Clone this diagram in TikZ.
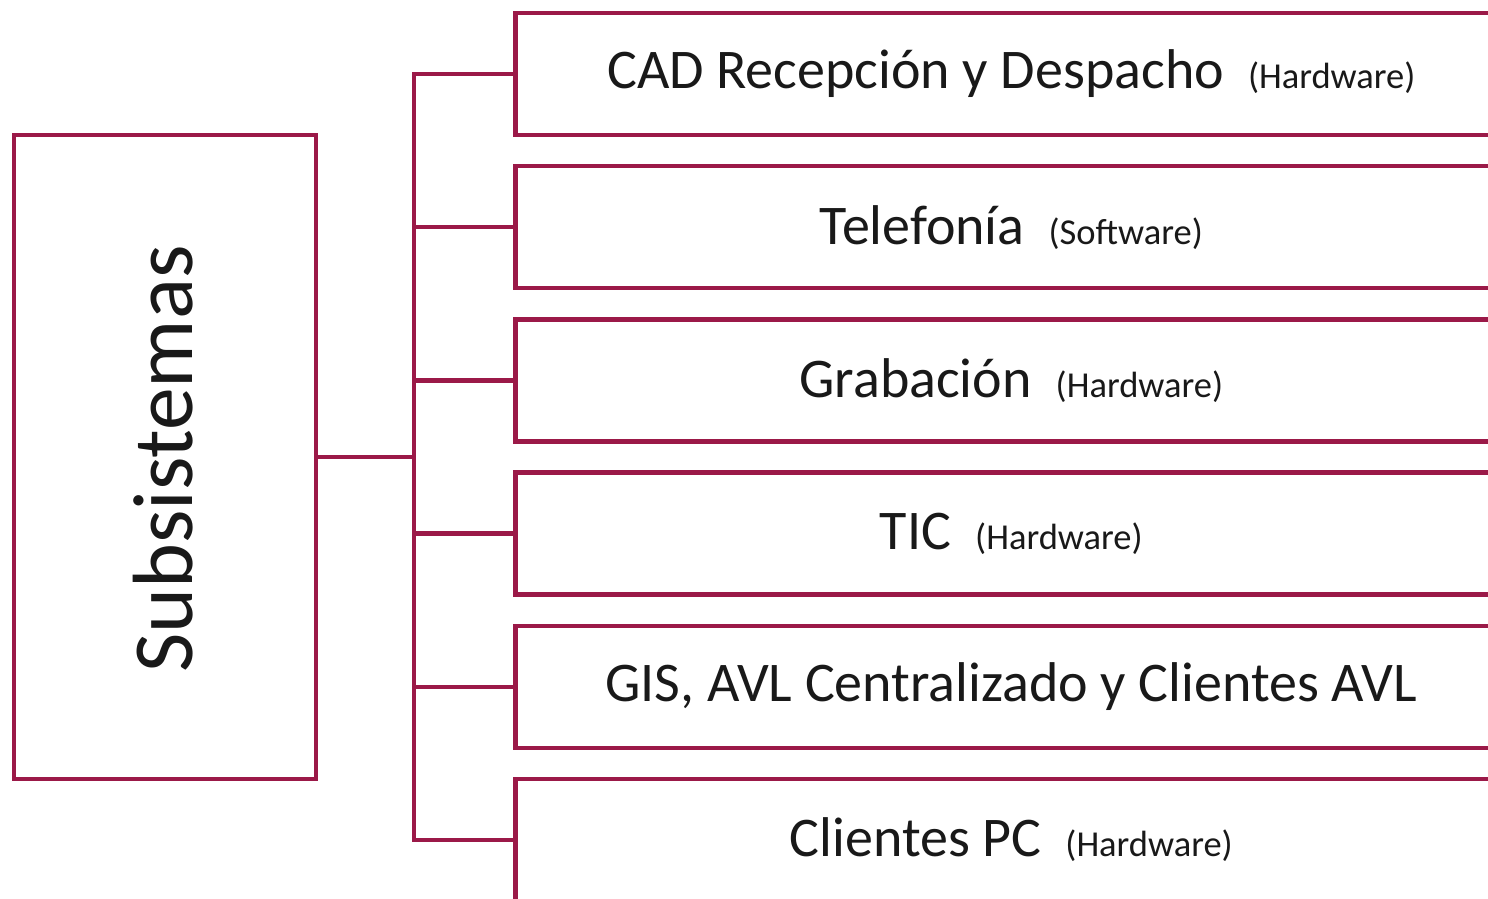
\documentclass[tikz,border=0pt]{standalone}
\usepackage{fontspec}
\setmainfont{Carlito}
\definecolor{crim}{RGB}{155,25,72}
\definecolor{ink}{RGB}{25,25,25}
\begin{document}
\begin{tikzpicture}[x=1pt,y=-1pt,
  box/.style={draw=crim,line width=4.5pt,inner sep=0pt,minimum width=992pt,minimum height=122pt,anchor=west,fill=white,text=ink},
  conn/.style={draw=crim,line width=4.5pt,line cap=rect},
  big/.style={font=\fontsize{56}{60}\selectfont},
]
\clip (0,0) rectangle (1488,898);
\fill[white] (0,0) rectangle (1488,898);
\node[draw=crim,line width=4.5pt,inner sep=0pt,minimum width=302pt,minimum height=644pt] (L) at (165,457) {};
\node[rotate=90,text=ink,font=\fontsize{85.5}{90}\selectfont] (Lt) at (163,459) {Subsistemas};
\newcommand{\sm}[1]{\hspace{24pt}{\fontsize{36.5}{40}\selectfont #1}}
\node[box,big] (b1) at (513,74) {\raisebox{-2pt}{CAD Recepción y Despacho\sm{(Hardware)}}};
\node[box,big] (b2) at (513,227.2) {\raisebox{-1pt}{Telefonía\sm{(Software)}}};
\node[box,big] (b3) at (513,380.4) {\raisebox{-1pt}{Grabación\sm{(Hardware)}}};
\node[box,big] (b4) at (513,533.6) {\raisebox{-1pt}{TIC\sm{(Hardware)}}};
\node[box,big] (b5) at (513,686.8) {\raisebox{-1pt}{GIS, AVL Centralizado y Clientes AVL}};
\node[box,big] (b6) at (513,840) {\raisebox{-1pt}{Clientes PC\sm{(Hardware)}}};
\coordinate (tk) at (414,0);
\draw[conn] (tk |- b1.west) -- (tk |- b6.west);
\draw[conn,line cap=butt] (L.east) -- (tk |- L.east);
\foreach \i in {1,...,6}{\draw[conn,line cap=butt] (tk |- b\i.west) -- (b\i.west);}
\end{tikzpicture}
\end{document}
